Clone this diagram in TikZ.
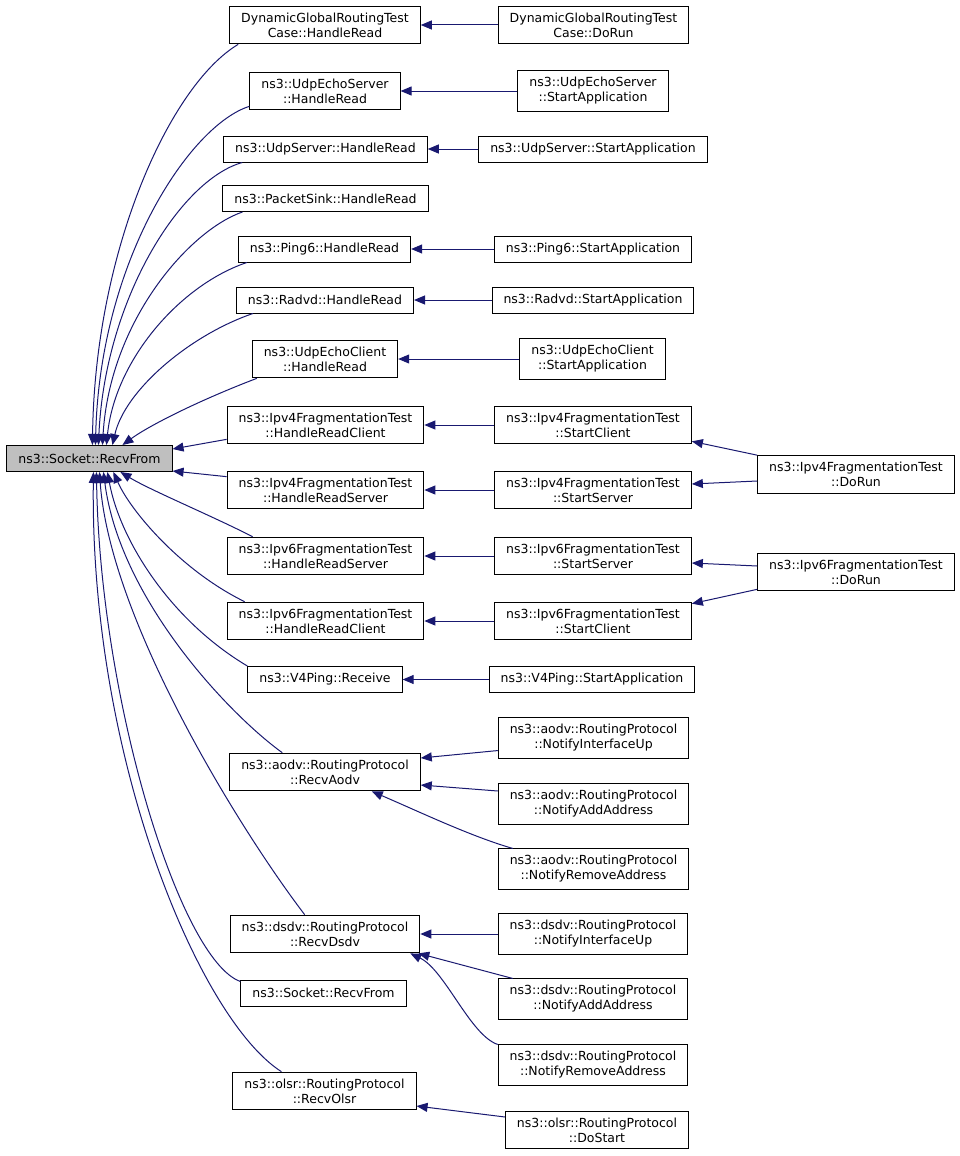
\documentclass[tikz,border=0pt]{standalone}
\usepackage{fontspec}
\setmainfont{DejaVu Sans}
\usetikzlibrary{arrows.meta}

\definecolor{edgeblue}{HTML}{191970}
\definecolor{maingray}{HTML}{BFBFBF}

\tikzset{
  fn/.style={draw=black, line width=1pt, fill=white, align=center,
    inner xsep=11.5pt, inner ysep=6.5pt, minimum height=26pt,
    font=\fontsize{12.5}{15}\selectfont},
  calls/.style={draw=edgeblue, line width=1pt,
    -{Triangle[length=11pt,width=9pt,fill=edgeblue]}},
}

\begin{document}
\begin{tikzpicture}[x=1pt,y=-1pt]
    \useasboundingbox (0,0) rectangle (960,1156);

    \node[fn, fill=maingray] (main) at (89.5,458.5) {ns3::Socket::RecvFrom};

    % callers of RecvFrom
    \node[fn] (dgrRead) at (325,25) {DynamicGlobalRoutingTest\\Case::HandleRead};
    \node[fn] (uesRead) at (325,91) {ns3::UdpEchoServer\\::HandleRead};
    \node[fn] (usRead) at (325.5,149) {ns3::UdpServer::HandleRead};
    \node[fn] (psRead) at (325.5,198.5) {ns3::PacketSink::HandleRead};
    \node[fn] (p6Read) at (324.5,249) {ns3::Ping6::HandleRead};
    \node[fn] (rvRead) at (325,300) {ns3::Radvd::HandleRead};
    \node[fn] (uecRead) at (325,359) {ns3::UdpEchoClient\\::HandleRead};
    \node[fn] (v4Client) at (325.5,425) {ns3::Ipv4FragmentationTest\\::HandleReadClient};
    \node[fn] (v4Server) at (325.5,490) {ns3::Ipv4FragmentationTest\\::HandleReadServer};
    \node[fn] (v6Server) at (325.5,556) {ns3::Ipv6FragmentationTest\\::HandleReadServer};
    \node[fn] (v6Client) at (325.5,621) {ns3::Ipv6FragmentationTest\\::HandleReadClient};
    \node[fn] (v4pRecv) at (325,679.5) {ns3::V4Ping::Receive};
    \node[fn] (aodvRecv) at (325,772) {ns3::aodv::RoutingProtocol\\::RecvAodv};
    \node[fn] (dsdvRecv) at (325,934) {ns3::dsdv::RoutingProtocol\\::RecvDsdv};
    \node[fn] (sockRecv) at (323.5,993) {ns3::Socket::RecvFrom};
    \node[fn] (olsrRecv) at (324.5,1091) {ns3::olsr::RoutingProtocol\\::RecvOlsr};

    % second level
    \node[fn] (dgrRun) at (593.5,25) {DynamicGlobalRoutingTest\\Case::DoRun};
    \node[fn] (uesStart) at (593,91) {ns3::UdpEchoServer\\::StartApplication};
    \node[fn] (usStart) at (593,149) {ns3::UdpServer::StartApplication};
    \node[fn] (p6Start) at (593,249) {ns3::Ping6::StartApplication};
    \node[fn] (rvStart) at (593,300) {ns3::Radvd::StartApplication};
    \node[fn] (uecStart) at (592.5,359) {ns3::UdpEchoClient\\::StartApplication};
    \node[fn] (v4StartC) at (593,425) {ns3::Ipv4FragmentationTest\\::StartClient};
    \node[fn] (v4StartS) at (593,490) {ns3::Ipv4FragmentationTest\\::StartServer};
    \node[fn] (v6StartS) at (593,556) {ns3::Ipv6FragmentationTest\\::StartServer};
    \node[fn] (v6StartC) at (593,621) {ns3::Ipv6FragmentationTest\\::StartClient};
    \node[fn] (v4pStart) at (592,679.5) {ns3::V4Ping::StartApplication};
    \node[fn] (aodvUp) at (593.5,738) {ns3::aodv::RoutingProtocol\\::NotifyInterfaceUp};
    \node[fn] (aodvAdd) at (593.5,804) {ns3::aodv::RoutingProtocol\\::NotifyAddAddress};
    \node[fn] (aodvRem) at (593.5,869) {ns3::aodv::RoutingProtocol\\::NotifyRemoveAddress};
    \node[fn] (dsdvUp) at (593,934) {ns3::dsdv::RoutingProtocol\\::NotifyInterfaceUp};
    \node[fn] (dsdvAdd) at (593,999) {ns3::dsdv::RoutingProtocol\\::NotifyAddAddress};
    \node[fn] (dsdvRem) at (593,1065) {ns3::dsdv::RoutingProtocol\\::NotifyRemoveAddress};
    \node[fn] (olsrStart) at (597,1130) {ns3::olsr::RoutingProtocol\\::DoStart};

    % third level
    \node[fn] (v4Run) at (856,474.5) {ns3::Ipv4FragmentationTest\\::DoRun};
    \node[fn] (v6Run) at (856,572) {ns3::Ipv6FragmentationTest\\::DoRun};

    % edges into RecvFrom, upper half
    \draw[calls] ([xshift=9pt]dgrRead.south west) .. controls (170,85) and (95,250) .. ([xshift=86pt]main.north west);
    \draw[calls] ([yshift=4pt]uesRead.south west) .. controls (190,125) and (100,260) .. ([xshift=89pt]main.north west);
    \draw[calls] ([xshift=19pt]usRead.south west) .. controls (180,180) and (105,300) .. ([xshift=92pt]main.north west);
    \draw[calls] ([xshift=20pt]psRead.south west) .. controls (190,230) and (110,320) .. ([xshift=96pt]main.north west);
    \draw[calls] ([xshift=9pt]p6Read.south west) .. controls (180,285) and (115,360) .. ([xshift=100pt]main.north west);
    \draw[calls] ([xshift=17pt]rvRead.south west) .. controls (190,335) and (125,390) .. ([xshift=106pt]main.north west);
    \draw[calls] ([xshift=5pt]uecRead.south west) .. controls (200,400) and (150,425) .. ([xshift=116pt]main.north west);
    \draw[calls] ([yshift=5pt]v4Client.south west) -- ([yshift=9.5pt]main.east);

    % edges into RecvFrom, lower half
    \draw[calls] ([yshift=-6pt]v4Server.north west) -- ([yshift=1pt]main.south east);
    \draw[calls] ([xshift=26pt]v6Server.north west) .. controls (210,515) and (150,490) .. ([xshift=114pt]main.south west);
    \draw[calls] ([xshift=18pt]v6Client.north west) .. controls (180,570) and (130,510) .. ([xshift=107pt]main.south west);
    \draw[calls] (v4pRecv.north west) .. controls (170,620) and (120,540) .. ([xshift=101pt]main.south west);
    \draw[calls] ([xshift=53pt]aodvRecv.north west) .. controls (230,715) and (120,600) .. ([xshift=97pt]main.south west);
    \draw[calls] ([xshift=75pt]dsdvRecv.north west) .. controls (240,830) and (110,620) .. ([xshift=93pt]main.south west);
    \draw[calls] ([yshift=-2pt]sockRecv.north west) .. controls (180,960) and (100,700) .. ([xshift=90pt]main.south west);
    \draw[calls] ([xshift=49pt]olsrRecv.north west) .. controls (200,1020) and (90,760) .. ([xshift=87pt]main.south west);

    % straight edges between the columns
    \foreach \src/\dst in {dgrRun/dgrRead, uesStart/uesRead, usStart/usRead,
        p6Start/p6Read, rvStart/rvRead, uecStart/uecRead, v4StartC/v4Client,
        v4StartS/v4Server, v6StartS/v6Server, v6StartC/v6Client,
        v4pStart/v4pRecv, dsdvUp/dsdvRecv}{
      \draw[calls] (\src.west) -- (\dst.east);
    }

    \draw[calls] ([yshift=8pt]aodvUp.south west) -- ([yshift=14pt]aodvRecv.east);
    \draw[calls] ([yshift=13pt]aodvAdd.west) -- ([yshift=-13pt]aodvRecv.east);
    \draw[calls] ([xshift=15pt]aodvRem.north west) .. controls (470,836) and (420,812) .. ([xshift=-49pt]aodvRecv.south east);
    \draw[calls] ([xshift=15pt]dsdvAdd.north west) -- ([xshift=-2pt]dsdvRecv.south east);
    \draw[calls] (dsdvRem.north west) .. controls (470,1035) and (445,970) .. ([xshift=-10pt]dsdvRecv.south east);
    \draw[calls] ([yshift=13pt]olsrStart.west) -- ([yshift=-15pt]olsrRecv.east);

    \draw[calls] (v4Run.north west) -- ([yshift=3pt]v4StartC.south east);
    \draw[calls] ([yshift=-6.5pt]v4Run.west) -- ([yshift=6pt]v4StartS.east);
    \draw[calls] ([yshift=6pt]v6Run.west) -- ([yshift=-7pt]v6StartS.east);
    \draw[calls] ([yshift=2pt]v6Run.south west) -- ([yshift=-2pt]v6StartC.north east);
\end{tikzpicture}
\end{document}
